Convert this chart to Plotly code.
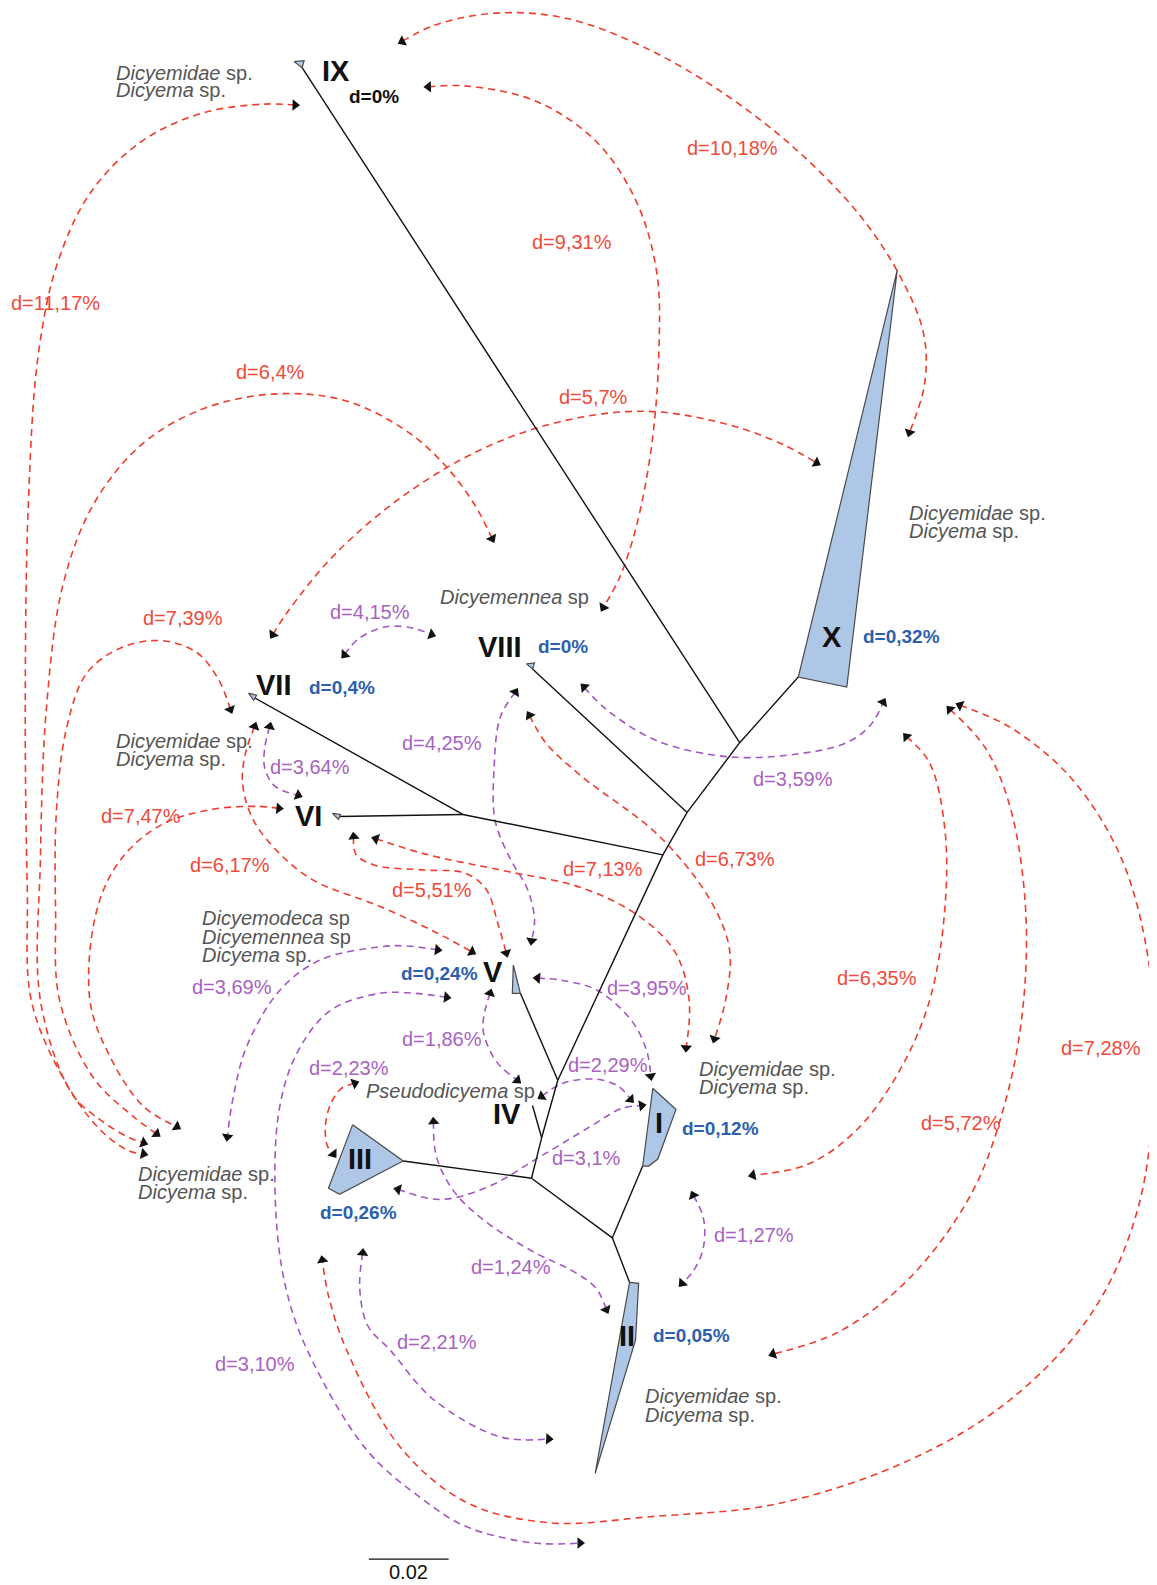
import math
import plotly.graph_objects as go

RED = "#f03c2c"
RED_TXT = "#f04a3a"
PURPLE = "#a456c2"
PURPLE_TXT = "#a862c2"
BLUE_TXT = "#2d5fae"
GRAY = "#555555"
FILL = "#aec7e7"
FONT = "Liberation Sans, Arial, sans-serif"

# tree nodes (page coordinates, y grows downwards)
NODES = {
    "A": (732, 735), "B": (680, 804), "C": (656, 846), "D": (458, 806),
    "E": (552, 1069), "H": (536, 1126), "F": (526, 1166), "G": (606, 1225),
    "IX": (299, 67), "X": (790, 670), "VIII": (527, 662), "VII": (251, 690),
    "VI": (335, 808), "V": (515, 983), "IV": (527, 1094), "III": (399, 1149),
    "I": (636, 1154), "II": (623, 1269),
}
BRANCHES = [("IX", "A"), ("A", "X"), ("A", "B"), ("VIII", "B"), ("B", "C"),
            ("D", "C"), ("VII", "D"), ("VI", "D"), ("C", "E"), ("V", "E"),
            ("E", "H"), ("IV", "H"), ("H", "F"), ("III", "F"), ("F", "G"),
            ("G", "I"), ("G", "II")]

# collapsed clades
CLADE_X = [(888, 267), (790, 670), (838, 680)]
CLADE_III = [(349, 1113), (399, 1149), (336, 1182), (325, 1176)]
CLADE_I = [(646, 1077), (669, 1098), (651, 1147), (642, 1154), (636, 1154)]
CLADE_II = [(623, 1269), (632, 1270), (629, 1326), (589, 1458)]
CLADE_V = [(508, 955), (507, 983), (515, 983)]
TIP_IX = [(291, 61), (301, 60), (299, 67)]
TIP_VIII = [(521, 657), (529, 656), (527, 662)]
TIP_VII = [(246, 686), (254, 688), (251, 693)]
TIP_VI = [(329, 805), (337, 806), (335, 811)]

# pairwise distance arrows: label, colour, waypoints
ARROWS = [
    ("d=10,18%", RED, [(398, 41), (430, 25), (490, 13), (560, 18), (640, 48), (720, 95),
                       (790, 150), (850, 212), (890, 272), (914, 330), (915, 380), (900, 428)]),
    ("d=9,31%", RED, [(424, 86), (460, 85), (530, 100), (590, 140), (630, 200), (650, 270),
                      (652, 350), (645, 440), (630, 520), (613, 572), (597, 601)]),
    ("d=11,17%", RED, [(292, 104), (262, 103), (200, 112), (140, 140), (90, 190), (57, 260),
                       (38, 350), (28, 500), (25, 700), (27, 880), (31, 990), (62, 1066),
                       (99, 1118), (128, 1139), (142, 1142)]),
    ("d=6,4%", RED, [(487, 533), (470, 500), (440, 460), (400, 425), (340, 396), (270, 390),
                     (200, 405), (140, 440), (92, 500), (62, 580), (46, 700), (40, 850),
                     (40, 990), (71, 1082), (99, 1108), (128, 1126), (142, 1131)]),
    ("d=5,7%", RED, [(270, 628), (285, 605), (330, 550), (400, 490), (480, 443), (560, 416),
                     (640, 407), (720, 420), (775, 440), (808, 458)]),
    ("d=7,39%", RED, [(228, 702), (216, 672), (195, 646), (160, 634), (120, 641), (86, 666),
                      (66, 720), (56, 800), (55, 900), (59, 990), (92, 1066), (132, 1105),
                      (155, 1122)]),
    ("d=7,47%", RED, [(276, 800), (255, 798), (210, 801), (160, 816), (120, 850), (96, 900),
                      (89, 990), (109, 1046), (142, 1095), (175, 1115)]),
    ("d=6,17%", RED, [(252, 719), (243, 745), (240, 775), (250, 810), (275, 843), (310, 871),
                      (376, 897), (430, 922), (467, 942)]),
    ("d=5,51%", RED, [(350, 828), (352, 845), (370, 856), (420, 861), (460, 864), (481, 880),
                      (493, 915), (501, 943)]),
    ("d=7,13%", RED, [(372, 830), (420, 845), (500, 862), (574, 878), (630, 905), (668, 942),
                      (682, 990), (679, 1037)]),
    ("d=6,73%", RED, [(524, 708), (540, 735), (574, 767), (653, 828), (703, 891), (722, 940),
                      (718, 990), (707, 1028)]),
    ("d=6,35%", RED, [(897, 729), (920, 755), (935, 820), (935, 900), (920, 990), (890, 1060),
                      (848, 1118), (800, 1152), (745, 1163)]),
    ("d=5,72%", RED, [(940, 702), (975, 740), (1000, 800), (1015, 900), (1012, 1000),
                      (995, 1090), (962, 1180), (900, 1265), (830, 1318), (765, 1340)]),
    ("d=7,28%", RED, [(950, 698), (1000, 720), (1060, 770), (1110, 850), (1138, 960),
                      (1142, 1080), (1125, 1200), (1080, 1300), (1000, 1385), (900, 1445),
                      (770, 1488), (643, 1501), (544, 1507), (462, 1487), (396, 1432),
                      (343, 1336), (325, 1282), (319, 1247)]),
    ("d=2,23%", RED, [(351, 1072), (338, 1077), (327, 1093), (322, 1115), (324, 1134), (330, 1142)]),
    ("d=4,15%", PURPLE, [(341, 648), (355, 632), (383, 620), (410, 622), (427, 628)]),
    ("d=3,64%", PURPLE, [(267, 719), (262, 740), (262, 760), (272, 778), (295, 787)]),
    ("d=4,25%", PURPLE, [(510, 685), (495, 710), (489, 760), (490, 812), (505, 850),
                         (522, 880), (529, 910), (526, 931)]),
    ("d=3,59%", PURPLE, [(578, 680), (600, 702), (650, 733), (722, 749), (790, 746),
                         (838, 735), (862, 717), (874, 695)]),
    ("d=3,69%", PURPLE, [(433, 940), (400, 936), (376, 937), (317, 950), (277, 980),
                         (244, 1036), (230, 1090), (225, 1125)]),
    ("d=3,10%", PURPLE, [(442, 987), (410, 983), (376, 983), (327, 1000), (294, 1042),
                         (276, 1100), (273, 1200), (283, 1275), (304, 1336), (363, 1435),
                         (420, 1485), (462, 1511), (528, 1527), (574, 1527)]),
    ("d=1,86%", PURPLE, [(485, 983), (480, 1000), (478, 1019), (485, 1040), (495, 1055), (512, 1069)]),
    ("d=3,95%", PURPLE, [(532, 968), (555, 970), (591, 980), (625, 1010), (640, 1040), (644, 1065)]),
    ("d=2,29%", PURPLE, [(536, 1085), (557, 1072), (590, 1068), (612, 1075), (624, 1088)]),
    ("d=3,1%", PURPLE, [(394, 1177), (435, 1187), (482, 1175), (534, 1145), (584, 1115),
                        (615, 1097), (635, 1094)]),
    ("d=1,24%", PURPLE, [(429, 1110), (432, 1145), (450, 1180), (482, 1210), (530, 1240),
                         (567, 1258), (590, 1275), (600, 1296)]),
    ("d=1,27%", PURPLE, [(686, 1183), (696, 1205), (696, 1235), (686, 1258), (675, 1270)]),
    ("d=2,21%", PURPLE, [(359, 1240), (356, 1275), (364, 1312), (386, 1336), (429, 1385),
                         (495, 1422), (543, 1424)]),
]

# distance labels: text, x, y, colour
DIST_LABELS = [
    ("d=10,18%", 725, 146, RED_TXT), ("d=9,31%", 566, 239, RED_TXT),
    ("d=11,17%", 55, 300, RED_TXT), ("d=6,4%", 268, 368, RED_TXT),
    ("d=5,7%", 587, 393, RED_TXT), ("d=7,39%", 181, 612, RED_TXT),
    ("d=4,15%", 366, 606, PURPLE_TXT), ("d=4,25%", 437, 735, PURPLE_TXT),
    ("d=3,64%", 307, 759, PURPLE_TXT), ("d=3,59%", 785, 771, PURPLE_TXT),
    ("d=7,47%", 140, 808, RED_TXT), ("d=6,17%", 228, 856, RED_TXT),
    ("d=7,13%", 597, 860, RED_TXT), ("d=6,73%", 727, 850, RED_TXT),
    ("d=5,51%", 428, 881, RED_TXT), ("d=3,69%", 230, 977, PURPLE_TXT),
    ("d=3,95%", 640, 978, PURPLE_TXT), ("d=6,35%", 868, 968, RED_TXT),
    ("d=7,28%", 1090, 1037, RED_TXT), ("d=1,86%", 437, 1028, PURPLE_TXT),
    ("d=2,23%", 345, 1057, PURPLE_TXT), ("d=2,29%", 602, 1054, PURPLE_TXT),
    ("d=3,1%", 580, 1146, PURPLE_TXT), ("d=5,72%", 951, 1111, RED_TXT),
    ("d=1,27%", 746, 1222, PURPLE_TXT), ("d=1,24%", 506, 1254, PURPLE_TXT),
    ("d=2,21%", 432, 1328, PURPLE_TXT), ("d=3,10%", 252, 1350, PURPLE_TXT),
]

# clade numerals and within-clade distances
CLADE_NAMES = [("IX", 333, 70), ("X", 823, 630), ("VIII", 495, 640), ("VII", 271, 678),
               ("VI", 305, 808), ("V", 488, 962), ("IV", 502, 1102), ("III", 356, 1147),
               ("II", 620, 1322), ("I", 652, 1111)]
WITHIN = [("d=0%", 370, 95, "#111111"), ("d=0,32%", 892, 630, BLUE_TXT),
          ("d=0%", 557, 640, BLUE_TXT), ("d=0,4%", 338, 680, BLUE_TXT),
          ("d=0,24%", 435, 963, BLUE_TXT), ("d=0,12%", 713, 1117, BLUE_TXT),
          ("d=0,26%", 355, 1200, BLUE_TXT), ("d=0,05%", 684, 1322, BLUE_TXT)]

# taxon names: genus, suffix, left x, y
TAXA = [
    ("Dicyemidae", "sp.", 113, 72), ("Dicyema", "sp.", 113, 89),
    ("Dicyemidae", "sp.", 898, 508), ("Dicyema", "sp.", 898, 525),
    ("Dicyemennea", "sp", 433, 591),
    ("Dicyemidae", "sp.", 113, 733), ("Dicyema", "sp.", 113, 751),
    ("Dicyemodeca", "sp", 198, 908), ("Dicyemennea", "sp", 198, 927), ("Dicyema", "sp.", 198, 945),
    ("Pseudodicyema", "sp", 360, 1080),
    ("Dicyemidae", "sp.", 690, 1058), ("Dicyema", "sp.", 690, 1076),
    ("Dicyemidae", "sp.", 135, 1162), ("Dicyema", "sp.", 135, 1180),
    ("Dicyemidae", "sp.", 636, 1382), ("Dicyema", "sp.", 636, 1400),
]

SCALE_BAR = [(365, 1543), (444, 1543)]
SCALE_LABEL = "0.02"

# the page body keeps an 8px margin; the axes are cut so the drawing lands on the page grid
PAGE_W, PAGE_H, BODY = 1157, 1585, 8
K = 1157 / 1145


def head_angle(p_from, p_to):
    dx, dy = p_to[0] - p_from[0], p_to[1] - p_from[1]
    return math.degrees(math.atan2(dx, -dy))


fig = go.Figure()

# dashed arrows
hx, hy, ha = [], [], []
for name, col, pts in ARROWS:
    fig.add_trace(go.Scatter(
        x=[p[0] for p in pts], y=[p[1] for p in pts], mode="lines",
        line=dict(color=col, width=1.6, dash="7px,5px", shape="spline", smoothing=1.0),
        hoverinfo="skip", showlegend=False))
    for a, b in ((pts[1], pts[0]), (pts[-2], pts[-1])):
        hx.append(b[0]); hy.append(b[1]); ha.append(head_angle(a, b))

# tree branches
bx, by = [], []
for a, b in BRANCHES:
    bx += [NODES[a][0], NODES[b][0], None]
    by += [NODES[a][1], NODES[b][1], None]
fig.add_trace(go.Scatter(x=bx, y=by, mode="lines", line=dict(color="#111111", width=1.4),
                         hoverinfo="skip", showlegend=False))

for poly in [CLADE_X, CLADE_III, CLADE_I, CLADE_II, CLADE_V,
             TIP_IX, TIP_VIII, TIP_VII, TIP_VI]:
    fig.add_trace(go.Scatter(
        x=[p[0] for p in poly] + [poly[0][0]], y=[p[1] for p in poly] + [poly[0][1]],
        mode="lines", fill="toself", fillcolor=FILL,
        line=dict(color="#4a4a4a", width=1.2), hoverinfo="skip", showlegend=False))

fig.add_trace(go.Scatter(
    x=hx, y=hy, mode="markers",
    marker=dict(symbol="triangle-up", size=10, color="#111111", angle=ha,
                line=dict(width=0)),
    hoverinfo="skip", showlegend=False))

fig.add_trace(go.Scatter(x=[p[0] for p in SCALE_BAR], y=[p[1] for p in SCALE_BAR],
                         mode="lines", line=dict(color="#111111", width=1.4),
                         hoverinfo="skip", showlegend=False))

ann = []
for text, x, y, col in DIST_LABELS:
    ann.append(dict(x=x, y=y, text=text, font=dict(size=20, color=col)))
for text, x, y in CLADE_NAMES:
    ann.append(dict(x=x, y=y, text=f"<b>{text}</b>", font=dict(size=29, color="#111111")))
for text, x, y, col in WITHIN:
    ann.append(dict(x=x, y=y, text=f"<b>{text}</b>", font=dict(size=19, color=col)))
for genus, suf, x, y in TAXA:
    ann.append(dict(x=x, y=y, text=f"<i>{genus}</i> {suf}", xanchor="left",
                    font=dict(size=20, color=GRAY)))
ann.append(dict(x=(SCALE_BAR[0][0] + SCALE_BAR[1][0]) / 2, y=SCALE_BAR[0][1] + 13,
                text=SCALE_LABEL, font=dict(size=20, color="#111111")))
for a in ann:
    a.setdefault("xanchor", "center")
    a.update(showarrow=False, yanchor="middle", xref="x", yref="y")
    a["font"]["family"] = FONT

fig.update_layout(
    width=PAGE_W - BODY, height=PAGE_H - BODY, margin=dict(l=0, r=0, t=0, b=0),
    paper_bgcolor="white", plot_bgcolor="white",
    xaxis=dict(range=[BODY / K, PAGE_W / K], visible=False, fixedrange=True),
    yaxis=dict(range=[PAGE_H / K, BODY / K], visible=False, fixedrange=True),
    annotations=ann, showlegend=False,
)

fig.write_html("out.html")
